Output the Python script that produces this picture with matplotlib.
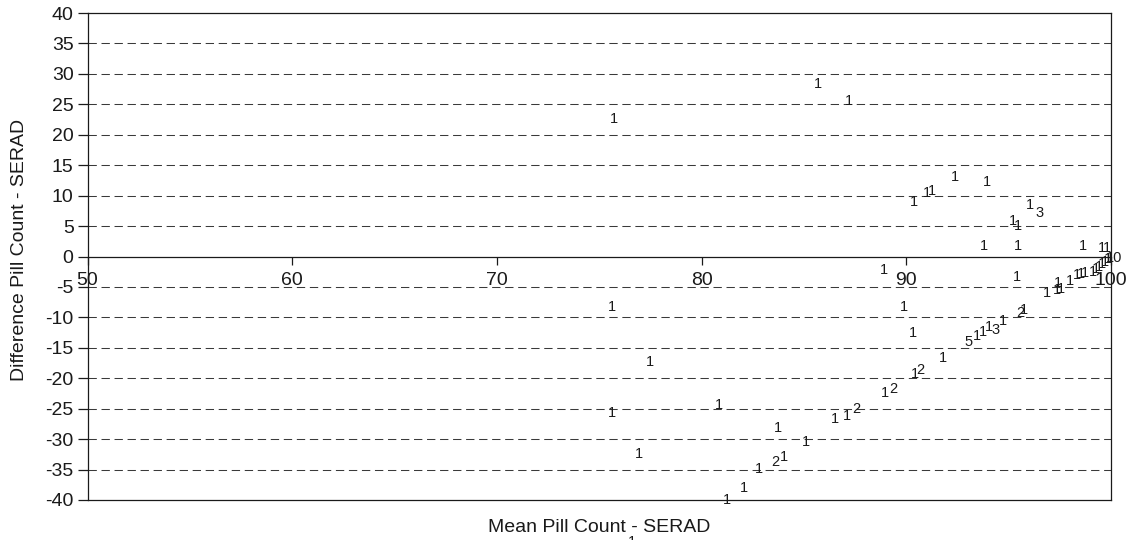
import matplotlib
matplotlib.use('Agg')
import matplotlib.pyplot as plt

plt.rcParams['font.family'] = ['Liberation Sans', 'DejaVu Sans']
plt.rcParams['axes.unicode_minus'] = False

# Mean pill count vs SERAD, difference pill count - SERAD, label = number of cases
mean_count = [
    75.72, 85.69, 87.20, 90.38, 91.01, 91.26, 92.38, 93.94, 96.04, 96.53,
    95.21, 95.46, 93.79, 95.46, 98.63, 99.56, 99.80,
    99.12, 99.27, 99.41, 99.56, 99.71, 99.85, 100.15,
    98.00, 98.34, 98.53, 98.73, 97.41, 97.36, 97.56, 96.87, 95.41,
    88.91, 89.89, 90.33, 95.55, 95.75, 93.06, 93.45, 93.75, 94.04, 94.38,
    94.72, 91.79, 90.42, 90.67, 88.96, 89.35, 86.52, 87.10, 87.54,
    77.48, 75.62, 80.84, 83.73, 85.10, 76.94, 83.59, 84.02, 82.80,
    82.07, 81.24, 76.60, 75.62,
]
difference = [
    22.58, 28.33, 25.53, 8.95, 10.43, 10.75, 13.05, 12.23, 8.46, 7.14,
    5.83, 5.01, 1.72, 1.72, 1.72, 1.40, 1.40,
    -2.55, -2.13, -1.72, -1.31, -0.90, -0.49, -0.25,
    -4.00, -3.04, -2.87, -2.71, -4.35, -5.50, -5.34, -5.99, -3.37,
    -2.22, -8.29, -12.56, -9.28, -8.78, -14.04, -13.05, -12.40, -11.58, -12.07,
    -10.59, -16.67, -19.29, -18.64, -22.41, -21.76, -26.68, -26.19, -25.04,
    -17.32, -25.70, -24.38, -28.16, -30.46, -32.43, -33.74, -32.92, -34.89,
    -38.01, -39.98, -46.88, -8.29,
]
counts = [
    '1', '1', '1', '1', '1', '1', '1', '1', '1', '3',
    '1', '1', '1', '1', '1', '1', '1',
    '1', '1', '1', '1', '1', '1', '10',
    '1', '1', '1', '1', '1', '1', '1', '1', '1',
    '1', '1', '1', '2', '1', '5', '1', '1', '1', '3',
    '1', '1', '1', '2', '1', '2', '1', '1', '2',
    '1', '1', '1', '1', '1', '1', '2', '1', '1',
    '1', '1', '1', '1',
]

x_ticks = [50, 60, 70, 80, 90, 100]
y_ticks = list(range(-40, 45, 5))

ink = '#1a1a1a'

fig = plt.figure(figsize=(11.38, 5.40), dpi=100)
ax = fig.add_axes([87.5 / 1138, 40 / 540, (1111 - 87.5) / 1138, 487 / 540])
ax.set_xlim(50, 100)
ax.set_ylim(-40, 40)

# dashed horizontal gridlines
for y in y_ticks:
    if y in (-40, 0, 40):
        continue
    ax.axhline(y, color='#3a3a3a', lw=0.75, ls=(0, (8, 4.5)), zorder=1)

# the x axis crosses at zero, the frame stays closed
for side in ['left', 'right', 'top', 'bottom']:
    ax.spines[side].set_color(ink)
    ax.spines[side].set_linewidth(0.9)
ax.spines['bottom'].set_position(('data', 0))
ax.plot([0, 1], [0, 0], transform=ax.transAxes, color=ink, lw=0.9, clip_on=False)

ax.set_xticks(x_ticks)
ax.set_yticks(y_ticks)
ax.tick_params(axis='x', direction='out', length=6, width=0.9, pad=5,
               labelsize=14, colors=ink)
ax.tick_params(axis='y', direction='out', length=7, width=0.9, pad=3,
               labelsize=14, colors=ink)

for x, y, c in zip(mean_count, difference, counts):
    ax.text(x, y, c, ha='center', va='center', fontsize=10.5, color=ink,
            clip_on=False, zorder=3)

fig.text(599 / 1138, 1 - 527 / 540, 'Mean Pill Count - SERAD',
         ha='center', va='center', fontsize=14, color=ink)
fig.text(20 / 1138, 1 - 250 / 540, 'Difference Pill Count - SERAD',
         ha='center', va='center', rotation=90, fontsize=14, color=ink)

fig.savefig('out.png', dpi=100)
